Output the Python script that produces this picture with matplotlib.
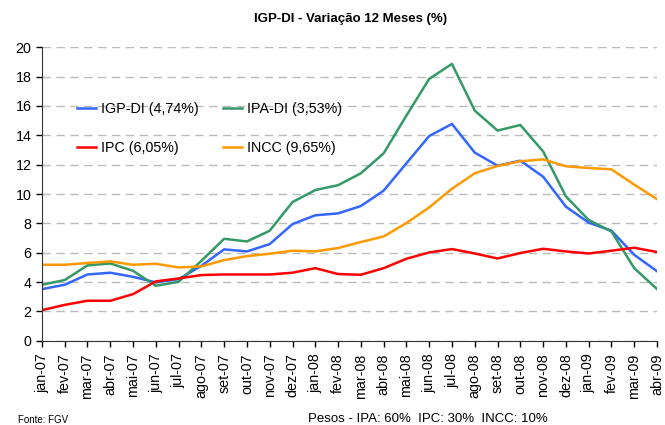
import matplotlib.pyplot as plt

plt.rcParams['font.family'] = ['Liberation Sans', 'DejaVu Sans']

months = ['jan-07', 'fev-07', 'mar-07', 'abr-07', 'mai-07', 'jun-07', 'jul-07',
          'ago-07', 'set-07', 'out-07', 'nov-07', 'dez-07',
          'jan-08', 'fev-08', 'mar-08', 'abr-08', 'mai-08', 'jun-08', 'jul-08',
          'ago-08', 'set-08', 'out-08', 'nov-08', 'dez-08',
          'jan-09', 'fev-09', 'mar-09', 'abr-09']

igp_di = [3.52, 3.82, 4.52, 4.64, 4.36, 3.98, 4.20, 5.11, 6.23, 6.09, 6.59, 7.95,
          8.55, 8.68, 9.18, 10.23, 12.09, 13.95, 14.77, 12.82, 11.93, 12.27, 11.18,
          9.14, 8.05, 7.50, 5.86, 4.74]
ipa_di = [3.82, 4.14, 5.14, 5.27, 4.77, 3.75, 4.02, 5.45, 6.95, 6.77, 7.50, 9.45,
          10.27, 10.60, 11.41, 12.77, 15.34, 17.84, 18.86, 15.68, 14.32, 14.70, 12.90,
          9.84, 8.23, 7.45, 4.95, 3.53]
ipc = [2.09, 2.45, 2.73, 2.73, 3.18, 4.05, 4.25, 4.48, 4.52, 4.52, 4.52, 4.64,
       4.95, 4.55, 4.50, 4.95, 5.59, 6.02, 6.25, 5.95, 5.61, 5.98, 6.27,
       6.09, 5.95, 6.14, 6.34, 6.05]
incc = [5.18, 5.18, 5.30, 5.41, 5.18, 5.25, 5.00, 5.07, 5.50, 5.77, 5.93, 6.14,
        6.09, 6.32, 6.73, 7.11, 8.02, 9.09, 10.36, 11.41, 11.91, 12.23, 12.36,
        11.89, 11.77, 11.68, 10.64, 9.65]

labels = ['IGP-DI (4,74%)', 'IPA-DI (3,53%)', 'IPC (6,05%)', 'INCC (9,65%)']
colors = ['#3366FF', '#339966', '#FF0000', '#FF9900']

fig = plt.figure(figsize=(6.65, 4.25), dpi=100)
ax = fig.add_axes([0.063, 0.198, 0.925, 0.691])

x = range(len(months))
lines = []
for series, lab, col in zip([igp_di, ipa_di, ipc, incc], labels, colors):
    l, = ax.plot(x, series, color=col, lw=1.8, label=lab)
    lines.append(l)

ax.set_xlim(0, len(months) - 1)
ax.set_ylim(0, 20)
ax.set_yticks(range(0, 21, 2))
ax.set_xticks(list(x))
ax.set_xticklabels(months, rotation=90, fontsize=10.3)
ax.tick_params(axis='y', labelsize=10.3, direction='out', length=4, width=1)
ax.tick_params(axis='x', direction='out', length=4, width=1, pad=5)

ax.grid(axis='y', color='#BBBBBB', linestyle=(0, (6, 4)), lw=1)
ax.set_axisbelow(True)
for s in ['top', 'right']:
    ax.spines[s].set_visible(False)
for s in ['left', 'bottom']:
    ax.spines[s].set_color('#333333')

# legend fills by column, so order it to read row by row
order = [0, 2, 1, 3]
ax.legend([lines[i] for i in order], [labels[i] for i in order],
          loc='upper left', bbox_to_anchor=(0.057, 0.812), ncol=2, frameon=False,
          fontsize=10.3, handlelength=1.3, handletextpad=0.35, columnspacing=1.75,
          labelspacing=1.75, borderpad=0, borderaxespad=0)

fig.text(0.527, 0.955, 'IGP-DI - Variação 12 Meses (%)', ha='center', va='center',
         fontsize=9.5, fontweight='bold')
fig.text(0.027, 0.012, 'Fonte: FGV', ha='left', va='center', fontsize=7)
fig.text(0.644, 0.014, 'Pesos - IPA: 60%  IPC: 30%  INCC: 10%', ha='center',
         va='center', fontsize=9.5)

fig.savefig('out.png', dpi=100)
